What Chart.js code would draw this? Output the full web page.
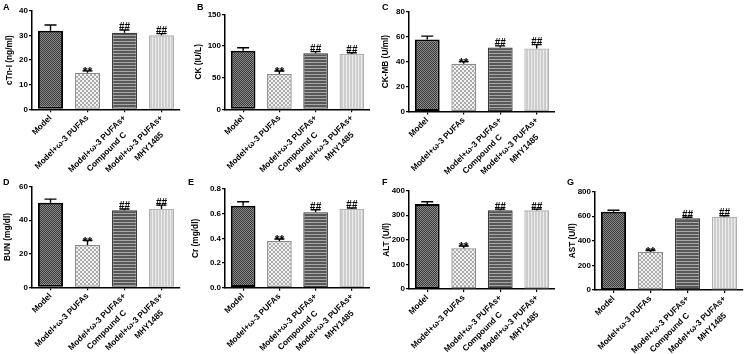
<!DOCTYPE html>
<html>
<head>
<meta charset="utf-8">
<script src="https://cdn.jsdelivr.net/npm/chart.js@4.4.1/dist/chart.umd.min.js"></script>
<style>
  body { margin: 0; background: #fff; width: 745px; height: 354px; position: relative; overflow: hidden;
         font-family: "Liberation Sans", Arial, sans-serif; }
  .panel { position: absolute; }
  .tag { position: absolute; font-weight: bold; font-size: 9px; line-height: 9px; color: #000; }
</style>
</head>
<body>
<script>
// groups on the x axis (two-line labels where the figure breaks them)
const groups = [
  ['Model'],
  ['Model+ω-3 PUFAs'],
  ['Model+ω-3 PUFAs+', 'Compound C'],
  ['Model+ω-3 PUFAs+', 'MHY1485']
];
const marks = ['', '**', '##', '##'];

// means and upper error (SD) per panel
const cTnI = [31.9, 14.8, 31.1, 30.0];
const cTnIErr = [2.3, 0.8, 1.1, 0.7];
const ck = [92.6, 55.8, 88.4, 87.4];
const ckErr = [4.7, 4.7, 2.6, 2.0];
const ckmb = [57.8, 38.2, 51.3, 50.5];
const ckmbErr = [2.6, 1.8, 1.3, 3.1];
const bun = [50.4, 25.2, 45.9, 46.7];
const bunErr = [2.2, 2.8, 0.8, 2.3];
const cr = [0.665, 0.378, 0.611, 0.638];
const crErr = [0.032, 0.017, 0.021, 0.008];
const alt = [346, 166, 320, 320];
const altErr = [9, 9, 5, 5];
const ast = [637, 312, 583, 596];
const astErr = [12, 12, 9, 8];

// y axis: max, step
const yMax = [40, 150, 80, 60, 0.8, 400, 800];
const yStep = [10, 50, 20, 20, 0.2, 100, 200];
const yTitles = ['cTn-I (ng/ml)', 'CK (IU/L)', 'CK-MB (U/ml)', 'BUN (mg/dl)', 'Cr (mg/dl)', 'ALT (U/l)', 'AST (U/l)'];
const letters = ['A', 'B', 'C', 'D', 'E', 'F', 'G'];

const FONT = '"Liberation Sans", Arial, sans-serif';

function makePattern(w, h, draw) {
  const c = document.createElement('canvas');
  c.width = w; c.height = h;
  const g = c.getContext('2d');
  draw(g);
  return g.createPattern(c, 'repeat');
}
const patDark = makePattern(2, 2, g => {
  g.fillStyle = '#8a8a8a'; g.fillRect(0, 0, 2, 2);
  g.fillStyle = '#3a3a3a'; g.fillRect(0, 0, 1, 1); g.fillRect(1, 1, 1, 1);
});
const patLight = makePattern(4, 4, g => {
  g.fillStyle = '#f2f2f2'; g.fillRect(0, 0, 4, 4);
  g.fillStyle = '#ababab'; g.fillRect(0, 0, 2, 2); g.fillRect(2, 2, 2, 2);
});
const patHoriz = makePattern(3, 3, g => {
  g.fillStyle = '#585858'; g.fillRect(0, 0, 3, 3);
  g.fillStyle = '#a8a8a8'; g.fillRect(0, 2, 3, 1);
});
const patVert = makePattern(3, 3, g => {
  g.fillStyle = '#cdcdcd'; g.fillRect(0, 0, 3, 3);
  g.fillStyle = '#ececec'; g.fillRect(2, 0, 1, 3);
});

const errorBars = {
  id: 'errorBars',
  afterDatasetsDraw(chart) {
    const ctx = chart.ctx;
    const y = chart.scales.y;
    const ds = chart.data.datasets[0];
    chart.getDatasetMeta(0).data.forEach((bar, i) => {
      const top = y.getPixelForValue(ds.data[i] + ds.errors[i]);
      ctx.save();
      ctx.strokeStyle = '#000';
      ctx.lineWidth = 1.4;
      ctx.beginPath();
      ctx.moveTo(bar.x, bar.y);
      ctx.lineTo(bar.x, top);
      const half = i === 0 ? 6 : 5;
      ctx.moveTo(bar.x - half, top);
      ctx.lineTo(bar.x + half, top);
      ctx.stroke();
      const m = marks[i];
      if (m) {
        ctx.fillStyle = '#000';
        ctx.textAlign = 'center';
        ctx.textBaseline = 'alphabetic';
        if (m === '**') {
          ctx.font = 'bold 12px ' + FONT;
          ctx.fillText(m, bar.x, top + 5.5);
        } else {
          ctx.font = 'bold 10px ' + FONT;
          ctx.fillText(m, bar.x, top + 0.5);
        }
      }
      ctx.restore();
    });
  }
};

// panel placement: x, y, w, h, axis x, top of y range, zero line, title offset
const boxes = [
  [0, 0, 185, 175, 32, 10.7, 109.3, 5],
  [185, 0, 185, 175, 40, 14.3, 109.3, 9],
  [370, 0, 185, 175, 39, 11.7, 111.5, 11],
  [0, 175, 185, 179, 32, 11.7, 112.3, 3],
  [185, 175, 185, 179, 40, 14, 112.7, 5.5],
  [370, 175, 185, 179, 39, 15.7, 114, 12],
  [555, 175, 190, 179, 40, 16.7, 115, 13]
];
const values = [cTnI, ck, ckmb, bun, cr, alt, ast];
const errors = [cTnIErr, ckErr, ckmbErr, bunErr, crErr, altErr, astErr];

// second label line is centred under the first in the figure
function tickLabel(v, i) {
  const l = groups[i];
  return l.length > 1 ? [l[0], l[1] + '\u00a0'.repeat(5)] : l;
}

boxes.forEach((b, k) => {
  const [px, py, w, h, axisX, top, zero, titleOff] = b;
  const div = document.createElement('div');
  div.className = 'panel';
  div.style.left = px + 'px';
  div.style.top = py + 'px';
  const cv = document.createElement('canvas');
  cv.width = w; cv.height = h;
  div.appendChild(cv);
  document.body.appendChild(div);

  const tag = document.createElement('div');
  tag.className = 'tag';
  tag.textContent = letters[k];
  tag.style.left = (px + (k % 4 === 0 || k === 3 ? 3 : 12)) + 'px';
  tag.style.top = (py + 3) + 'px';
  document.body.appendChild(tag);

  const plotW = 148;
  new Chart(cv, {
    type: 'bar',
    data: {
      labels: groups,
      datasets: [{
        data: values[k],
        errors: errors[k],
        backgroundColor: [patDark, patLight, patHoriz, patVert],
        borderColor: ['#000', '#8c8c8c', '#3c3c3c', '#b0b0b0'],
        borderWidth: [2, 1.3, 1.3, 1.3],
        borderSkipped: false,
        barPercentage: 0.68,
        categoryPercentage: 1
      }]
    },
    options: {
      responsive: false,
      animation: false,
      devicePixelRatio: 1,
      layout: { padding: { top: top, right: w - axisX - plotW, left: 0, bottom: 0 } },
      plugins: { legend: { display: false }, tooltip: { enabled: false } },
      scales: {
        x: {
          offset: true,
          grid: { display: true, offset: false, drawOnChartArea: false, tickLength: 3, color: '#000', lineWidth: 1.2 },
          border: { display: true, color: '#000', width: 1.5 },
          ticks: {
            color: '#000', autoSkip: false, maxRotation: 45, minRotation: 45, padding: 0,
            font: { family: FONT, size: 8.3, weight: 'bold', lineHeight: 1.5 },
            callback: tickLabel
          },
          afterFit(s) { s.height = h - zero; s.paddingLeft = 0; s.paddingRight = 0; }
        },
        y: {
          min: 0, max: yMax[k],
          grid: { display: true, drawOnChartArea: false, tickLength: 3, color: '#000', lineWidth: 1.2 },
          border: { display: true, color: '#000', width: 1.5 },
          ticks: {
            stepSize: yStep[k], color: '#000', padding: 1,
            font: { family: FONT, size: 8, weight: 'bold' },
            callback: v => yMax[k] < 1 ? v.toFixed(1) : v
          },
          title: {
            display: true, text: yTitles[k], color: '#000',
            padding: { top: titleOff, bottom: 0 },
            font: { family: FONT, size: 8.3, weight: 'bold' }
          },
          afterFit(s) { s.width = axisX; s.paddingTop = 0; s.paddingBottom = 0; }
        }
      }
    },
    plugins: [errorBars]
  });
});
</script>
</body>
</html>
